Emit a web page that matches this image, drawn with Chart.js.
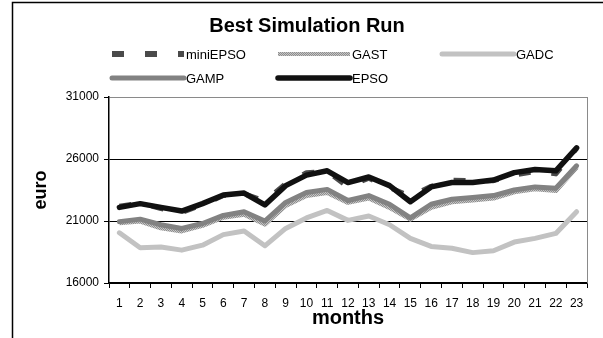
<!DOCTYPE html>
<html>
<head>
<meta charset="utf-8">
<script src="https://cdn.jsdelivr.net/npm/chart.js@4/dist/chart.umd.min.js"></script>
<style>
  html, body { margin: 0; padding: 0; background: #fff; }
  #wrap { width: 603px; height: 338px; }
</style>
</head>
<body>
<div id="wrap"><canvas id="chart" width="603" height="338"></canvas></div>
<script>
const months = ['1', '2', '3', '4', '5', '6', '7', '8', '9', '10', '11', '12',
  '13', '14', '15', '16', '17', '18', '19', '20', '21', '22', '23'];

const miniEpso = [22200, 22450, 22000, 21700, 22300, 23050, 23200, 22600, 24000, 24900, 25000, 23750,
  24450, 23700, 23000, 23800, 24300, 24250, 24250, 24700, 25000, 24800, 26850];
const gast = [20850, 21000, 20450, 20200, 20650, 21300, 21550, 20750, 22250, 23050, 23300, 22500,
  22850, 22100, 21150, 22100, 22550, 22700, 22850, 23350, 23600, 23450, 25350];
const gadc = [20050, 18850, 18900, 18650, 19050, 19900, 20200, 19000, 20400, 21250, 21850, 21050,
  21400, 20700, 19600, 18950, 18800, 18450, 18600, 19300, 19600, 20000, 21750];
const gamp = [20950, 21150, 20700, 20400, 20800, 21450, 21750, 21000, 22500, 23300, 23550, 22650,
  23050, 22350, 21250, 22350, 22750, 22900, 23050, 23500, 23750, 23650, 25450];
const epso = [22100, 22400, 22100, 21800, 22400, 23100, 23250, 22300, 23850, 24700, 25050, 24100,
  24550, 23850, 22550, 23750, 24100, 24100, 24300, 24900, 25150, 25050, 26900];

const yTicks = [16000, 21000, 26000, 31000];

const FONT = "'Liberation Sans', Arial, sans-serif";

// speckled texture for the GAST line
function gastPattern() {
  const c = document.createElement('canvas');
  c.width = 2; c.height = 2;
  const g = c.getContext('2d');
  g.fillStyle = '#c6c6c6';
  g.fillRect(0, 0, 2, 2);
  g.fillStyle = '#8e8e8e';
  g.fillRect(0, 0, 1, 1);
  g.fillRect(1, 1, 1, 1);
  return g.createPattern(c, 'repeat');
}

// outer frame + right border of the plot
const framePlugin = {
  id: 'frame',
  beforeDatasetsDraw(chart) {
    const { ctx, chartArea: a } = chart;
    ctx.save();
    ctx.strokeStyle = '#8a8a8a';
    ctx.lineWidth = 1;
    ctx.beginPath();
    ctx.moveTo(a.right + 0.5, a.top);
    ctx.lineTo(a.right + 0.5, a.bottom);
    ctx.stroke();
    ctx.restore();
  },
  afterDraw(chart) {
    const ctx = chart.ctx;
    ctx.save();
    ctx.strokeStyle = '#000';
    ctx.lineWidth = 1.5;
    ctx.beginPath();
    ctx.moveTo(12.5, 338);
    ctx.lineTo(12.5, 2.5);
    ctx.lineTo(603, 2.5);
    ctx.stroke();
    ctx.restore();
  }
};

// legend laid out as a grid like the original
const legendCols = [112, 278, 442];
const legendRows = [54, 78];
const legendPlugin = {
  id: 'gridLegend',
  afterDraw(chart) {
    const ctx = chart.ctx;
    ctx.save();
    chart.data.datasets.forEach((ds, k) => {
      const x = legendCols[k % 3];
      const y = legendRows[Math.floor(k / 3)];
      ctx.strokeStyle = ds.borderColor;
      ctx.lineWidth = ds.legendWidth || ds.borderWidth;
      ctx.lineCap = ds.borderCapStyle || 'butt';
      ctx.setLineDash(ds.borderDash || []);
      ctx.beginPath();
      ctx.moveTo(x, y);
      ctx.lineTo(x + 72, y);
      ctx.stroke();
      ctx.setLineDash([]);
      ctx.fillStyle = '#000';
      ctx.font = '13px ' + FONT;
      ctx.textBaseline = 'middle';
      ctx.textAlign = 'left';
      ctx.fillText(ds.label, x + 74, y + 1);
    });
    ctx.restore();
  }
};

const ctx = document.getElementById('chart').getContext('2d');
new Chart(ctx, {
  type: 'line',
  data: {
    labels: months,
    datasets: [
      { label: 'miniEPSO', data: miniEpso, borderColor: '#4a4a4a', borderWidth: 5,
        borderDash: [12, 21], legendWidth: 6, order: 5 },
      { label: 'GAST', data: gast, borderColor: gastPattern(), borderWidth: 5, legendWidth: 4, order: 4 },
      { label: 'GADC', data: gadc, borderColor: '#c2c2c2', borderWidth: 5, borderCapStyle: 'round', order: 3 },
      { label: 'GAMP', data: gamp, borderColor: '#828282', borderWidth: 5, borderCapStyle: 'round', order: 2 },
      { label: 'EPSO', data: epso, borderColor: '#111111', borderWidth: 5.5, borderCapStyle: 'round', order: 1 },
    ],
  },
  options: {
    responsive: false,
    animation: false,
    devicePixelRatio: 1,
    layout: { padding: { left: 27, right: 16, top: 0, bottom: 0 } },
    elements: {
      point: { radius: 0, hoverRadius: 0 },
      line: { tension: 0, fill: false, borderJoinStyle: 'round' }
    },
    scales: {
      x: {
        offset: true,
        grid: {
          display: true,
          offset: true,
          drawOnChartArea: false,
          drawTicks: true,
          tickLength: 5,
          color: '#000'
        },
        border: { color: '#000', width: 1.5 },
        ticks: {
          color: '#000',
          padding: 8,
          maxRotation: 0,
          autoSkip: false,
          font: { family: FONT, size: 12 }
        },
        title: {
          display: true,
          text: 'months',
          color: '#000',
          padding: { top: 0, bottom: 8 },
          font: { family: FONT, size: 20, weight: 'bold' }
        },
        afterFit(scale) { scale.height = 338 - 283; }
      },
      y: {
        min: 16000,
        max: 31000,
        afterBuildTicks(scale) { scale.ticks = yTicks.map(v => ({ value: v })); },
        grid: {
          color: (c) => (c.tick && c.tick.value === 31000 ? '#8a8a8a' : '#000'),
          tickColor: '#000',
          tickLength: 5,
          lineWidth: 1
        },
        border: { color: '#000', width: 1.5 },
        ticks: {
          color: '#000',
          padding: 5,
          font: { family: FONT, size: 12 },
          callback: (v) => String(v)
        },
        title: {
          display: true,
          text: 'euro',
          color: '#000',
          padding: { top: 3, bottom: 0 },
          font: { family: FONT, size: 18, weight: 'bold' }
        },
        afterFit(scale) { scale.width = 109 - 27; }
      }
    },
    plugins: {
      legend: { display: false },
      tooltip: { enabled: false },
      title: {
        display: true,
        text: 'Best Simulation Run',
        color: '#000',
        padding: { top: 14, bottom: 59 },
        font: { family: FONT, size: 20, weight: 'bold' }
      }
    }
  },
  plugins: [framePlugin, legendPlugin]
});
</script>
</body>
</html>
